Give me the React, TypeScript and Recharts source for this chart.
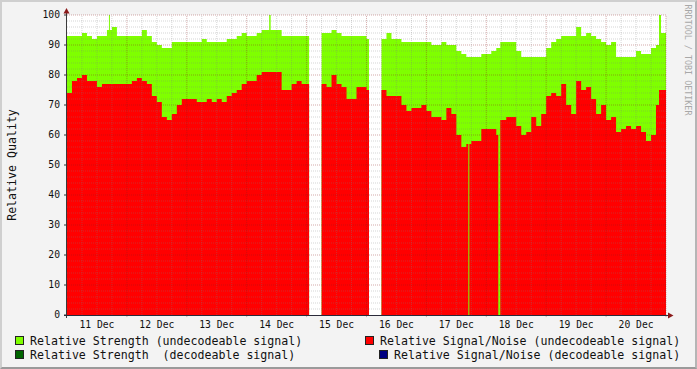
import { ComposedChart, Area, XAxis, YAxis, ReferenceLine, CartesianGrid } from 'recharts'

// hours since 11 Dec 00:00 (mostly 2h steps, extra points at gaps, spikes and dropouts)
const HOURS = [
  0, 2, 4, 6, 8, 10, 12, 14, 16, 16.8, 17.2, 18, 20, 22, 24, 26, 28, 30, 32, 34, 36, 38, 40,
  42, 44, 46, 48, 50, 52, 54, 56, 58, 60, 62, 64, 66, 68, 70, 72, 74, 76, 78, 80, 81, 81.6,
  82, 84, 86, 88, 90, 92, 94, 96, 97, 98, 100, 102, 104, 106, 108, 110, 112, 114,
  116, 118, 120, 121, 122, 124, 126, 128, 130, 132, 134, 136, 138, 140, 142, 144,
  146, 148, 150, 152, 154, 156, 158, 160, 160.8, 161.2, 162, 164, 166, 168, 170,
  172, 172.8, 173.6, 174, 176, 178, 180, 182, 184, 186, 188, 190, 192, 194, 196,
  198, 200, 202, 204, 206, 208, 210, 212, 214, 216, 218, 220, 222, 224, 226, 228,
  230, 232, 234, 236, 237.2, 238, 240,
]

const STRENGTH = [
  93, 93, 93, 94, 93, 92, 93, 93, 95, 100, 95, 96, 93, 93, 93, 93, 93, 95, 93, 91, 90, 89, 89,
  91, 91, 91, 91, 91, 91, 92, 91, 91, 91, 91, 92, 92, 93, 94, 93, 93, 94, 95, 95, 100, 95,
  95, 95, 93, 93, 93, 93, 93, 93, 93, null, null, 94, 94, 95, 94, 93, 93, 93,
  93, 93, 92, 92, null, null, 92, 94, 92, 92, 91, 91, 91, 91, 91, 91,
  90, 90, 91, 90, 90, 88, 87, 86, 86, 86, 86, 86, 87, 87, 88,
  89, 89, 91, 91, 91, 91, 88, 86, 86, 86, 86, 86, 89, 91, 92,
  93, 93, 93, 96, 93, 94, 93, 92, 91, 90, 91, 86, 86, 86, 86, 88,
  87, 87, 89, 90, 100, 94, 92,
]

const SIGNAL_NOISE = [
  74, 78, 79, 80, 78, 78, 76, 77, 77, 77, 77, 77, 77, 77, 77, 78, 79, 78, 77, 73, 71, 66, 65,
  67, 70, 72, 72, 72, 71, 71, 72, 71, 72, 71, 73, 74, 75, 77, 78, 78, 80, 81, 81, 81, 81,
  81, 81, 75, 75, 77, 78, 77, 77, 77, null, null, 77, 76, 80, 77, 76, 72, 72,
  76, 76, 75, 75, null, null, 75, 73, 73, 73, 70, 68, 69, 69, 70, 68,
  66, 66, 65, 69, 67, 60, 56, 57, 0, 57, 58, 58, 62, 62, 62,
  60, 0, 65, 65, 66, 66, 63, 60, 61, 66, 63, 67, 73, 74, 73,
  77, 70, 67, 78, 75, 76, 72, 67, 70, 65, 66, 61, 62, 63, 62, 63,
  61, 58, 60, 70, 75, 75, 78,
]

const DAY_CENTERS = [12, 36, 60, 84, 108, 132, 156, 180, 204, 228]
const DAY_LABELS = ['11 Dec', '12 Dec', '13 Dec', '14 Dec', '15 Dec', '16 Dec', '17 Dec', '18 Dec', '19 Dec', '20 Dec']
const Y_TICKS = [0, 10, 20, 30, 40, 50, 60, 70, 80, 90, 100]

const MONO = '"DejaVu Sans Mono", monospace'
const MINOR = 'rgba(128,128,128,0.32)'
const MAJOR = 'rgba(140,30,30,0.38)'

const data = HOURS.map((t, i) => ({ t, strength: STRENGTH[i], snr: SIGNAL_NOISE[i] }))

const minorX: number[] = []
const majorX: number[] = []
for (let h = 6; h <= 240; h += 6) (h % 24 === 0 ? majorX : minorX).push(h)
const minorY: number[] = []
const majorY: number[] = []
for (let v = 2; v <= 100; v += 2) (v % 10 === 0 ? majorY : minorY).push(v)

const LEGEND = [
  { label: 'Relative Strength (undecodeable signal)', color: '#7fff00', left: 15, top: 336, textLeft: 30 },
  { label: 'Relative Strength  (decodeable signal)', color: '#006400', left: 15, top: 350, textLeft: 30 },
  { label: 'Relative Signal/Noise (undecodeable signal)', color: '#ff0000', left: 365, top: 336, textLeft: 380 },
  { label: 'Relative Signal/Noise (decodeable signal)', color: '#000080', left: 379, top: 350, textLeft: 394 },
]

export default function App() {
  return (
    <div
      style={{
        position: 'fixed',
        left: 0,
        top: 0,
        width: 697,
        height: 369,
        boxSizing: 'border-box',
        background: '#f3f3f3',
        borderTop: '2px solid #cfcfcf',
        borderLeft: '2px solid #cfcfcf',
        borderBottom: '2px solid #9a9a9a',
        borderRight: '2px solid #b5b5b5',
        fontFamily: MONO,
        overflow: 'hidden',
      }}
    >
      <div style={{ position: 'absolute', left: -2, top: -2 }}>
        <ComposedChart width={697} height={369} data={data} margin={{ top: 15, right: 31, bottom: 0, left: 0 }}>
          <CartesianGrid horizontal={false} vertical={false} fill="#ffffff" />
          <XAxis
            dataKey="t"
            type="number"
            domain={[0, 240]}
            ticks={DAY_CENTERS}
            tickFormatter={(v: number) => DAY_LABELS[DAY_CENTERS.indexOf(v)]}
            tickLine={false}
            axisLine={false}
            tickSize={4}
            tickMargin={2}
            height={54}
            tick={{ fontFamily: MONO, fontSize: 9.7, fill: '#111' }}
            allowDataOverflow
          />
          <YAxis
            type="number"
            domain={[0, 100]}
            ticks={Y_TICKS}
            width={67}
            tickSize={3}
            tickMargin={4}
            axisLine={false}
            tickLine={{ stroke: '#333' }}
            tick={{ fontFamily: MONO, fontSize: 9.7, fill: '#111' }}
            allowDataOverflow
          />
          <Area
            dataKey="strength"
            type="stepAfter"
            fill="#7fff00"
            fillOpacity={1}
            stroke="none"
            dot={false}
            activeDot={false}
            isAnimationActive={false}
          />
          <Area
            dataKey="snr"
            type="stepAfter"
            fill="#ff0000"
            fillOpacity={1}
            stroke="none"
            dot={false}
            activeDot={false}
            isAnimationActive={false}
          />
          {minorY.map((v) => (
            <ReferenceLine key={'my' + v} y={v} stroke={MINOR} strokeDasharray="1 1" zIndex={1000} />
          ))}
          {majorY.map((v) => (
            <ReferenceLine key={'My' + v} y={v} stroke={MAJOR} strokeDasharray="1 1" zIndex={1000} />
          ))}
          {minorX.map((h) => (
            <ReferenceLine key={'mx' + h} x={h} stroke={MINOR} strokeDasharray="1 1" zIndex={1000} />
          ))}
          {majorX.map((h) => (
            <ReferenceLine
              key={'Mx' + h}
              segment={[{ x: h, y: -0.7 }, { x: h, y: 100 }]}
              ifOverflow="visible"
              stroke={MAJOR}
              strokeDasharray="1 1"
              zIndex={1000}
            />
          ))}
        </ComposedChart>
        {/* axes with rrdtool style arrows */}
        <svg width={697} height={369} style={{ position: 'absolute', left: 0, top: 0, pointerEvents: 'none' }}>
          <line x1={66.5} y1={318} x2={66.5} y2={11} stroke="#3a3a3a" strokeWidth={1} />
          <line x1={64} y1={315.5} x2={669} y2={315.5} stroke="#2a2a3a" strokeWidth={1} />
          <polygon points="63.5,13.5 69.5,13.5 66.5,8" fill="#8b1a1a" />
          <polygon points="668,312.5 668,318.5 673.5,315.5" fill="#8b1a1a" />
        </svg>
      </div>

      <div
        style={{
          position: 'absolute',
          left: 9.5,
          top: 162.5,
          transform: 'translate(-50%, -50%) rotate(-90deg)',
          fontSize: 11.6,
          whiteSpace: 'nowrap',
          color: '#111',
        }}
      >
        Relative Quality
      </div>

      <div
        style={{
          position: 'absolute',
          left: 685.5,
          top: 58,
          transform: 'translate(-50%, -50%) rotate(90deg)',
          fontSize: 8.4,
          whiteSpace: 'nowrap',
          color: '#a8a8a8',
        }}
      >
        RRDTOOL / TOBI OETIKER
      </div>

      {LEGEND.map((l) => (
        <div key={l.label}>
          <div
            style={{
              position: 'absolute',
              left: l.left - 2,
              top: l.top - 2,
              width: 9,
              height: 9,
              boxSizing: 'border-box',
              border: '1px solid #222',
              background: l.color,
            }}
          />
          <div
            style={{
              position: 'absolute',
              left: l.textLeft - 2,
              top: l.top - 4,
              fontSize: 11.6,
              lineHeight: '14px',
              whiteSpace: 'pre',
              color: '#111',
            }}
          >
            {l.label}
          </div>
        </div>
      ))}
    </div>
  )
}
